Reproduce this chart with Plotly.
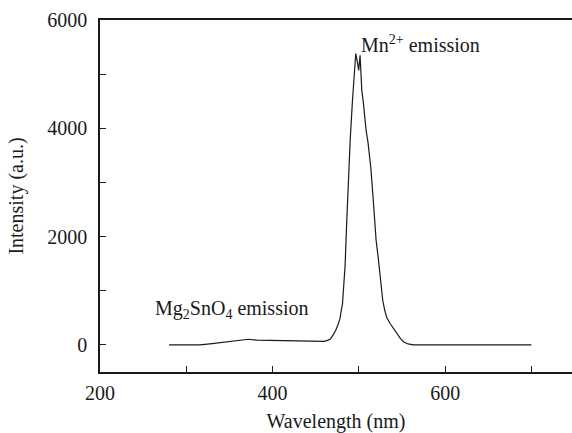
import plotly.graph_objects as go

# Emission spectrum, wavelength in nm vs intensity in a.u.
wavelength = [280, 300, 316, 330, 347, 360, 372, 382, 400, 416, 430, 444, 455, 459,
              463, 467, 470, 473, 476, 478, 481, 484, 486, 488, 490, 492.5, 494.5,
              496.4, 498, 499.8, 501.4, 502.5, 503.4, 505.3, 506.5, 508.4, 510.5,
              512.2, 513.8, 516.1, 518, 520, 522.5, 524.6, 527.7, 530, 532.3, 536,
              540, 544, 548, 552, 557, 563, 580, 620, 660, 700]
intensity = [0, 0, 2, 25, 56, 85, 105, 88, 80, 74, 68, 61, 61, 65,
             80, 110, 180, 260, 380, 480, 760, 1450, 2300, 3200, 3800, 4490, 4900,
             5380, 5250, 5070, 5350, 5000, 4700, 4460, 4200, 3960, 3750,
             3500, 3280, 2800, 2300, 1930, 1600, 1310, 820, 640, 505, 400,
             300, 220, 120, 55, 18, 0, 0, 0, 0, 0]

x_ticks = [200, 400, 600]
y_ticks = [0, 2000, 4000, 6000]

serif = "'Times New Roman', 'Liberation Serif', Times, serif"
ink = "#1a1a1a"
fs = 20

fig = go.Figure()
fig.add_trace(go.Scatter(
    x=wavelength, y=intensity, mode="lines",
    line=dict(color=ink, width=1.2),
    showlegend=False, hoverinfo="skip",
))

fig.add_annotation(x=500, y=5560, text="Mn<sup>2+</sup> emission",
                   xanchor="left", yanchor="middle", showarrow=False,
                   font=dict(family=serif, size=fs, color=ink))
fig.add_annotation(x=261, y=660, text="Mg<sub>2</sub>SnO<sub>4</sub> emission",
                   xanchor="left", yanchor="middle", showarrow=False,
                   font=dict(family=serif, size=fs, color=ink))

fig.update_layout(
    width=572, height=433,
    margin=dict(l=100, r=0, t=20, b=61),
    paper_bgcolor="white", plot_bgcolor="white",
    font=dict(family=serif, size=fs, color=ink),
    xaxis=dict(
        range=[200, 747], tickvals=x_ticks, ticks="inside", ticklen=6,
        tickwidth=1.3, tickcolor=ink, ticklabelstandoff=2, automargin=False,
        tickfont=dict(family=serif, size=fs, color=ink),
        minor=dict(dtick=100, tick0=200, ticks="inside", ticklen=6, tickcolor=ink),
        showline=True, linecolor=ink, linewidth=1.5, mirror=True,
        showgrid=False, zeroline=False,
        title=dict(text="Wavelength (nm)", standoff=25,
                   font=dict(family=serif, size=fs, color=ink)),
    ),
    yaxis=dict(
        range=[-500, 6000], tickvals=y_ticks, ticks="inside", ticklen=6,
        tickwidth=1.3, tickcolor=ink, ticklabelstandoff=7, automargin=False,
        tickfont=dict(family=serif, size=fs, color=ink),
        minor=dict(dtick=1000, tick0=0, ticks="inside", ticklen=6, tickcolor=ink),
        showline=True, linecolor=ink, linewidth=1.5,
        showgrid=False, zeroline=False,
        title=dict(text="Intensity (a.u.)", standoff=18,
                   font=dict(family=serif, size=fs, color=ink)),
    ),
)

fig.write_html("out.html")
